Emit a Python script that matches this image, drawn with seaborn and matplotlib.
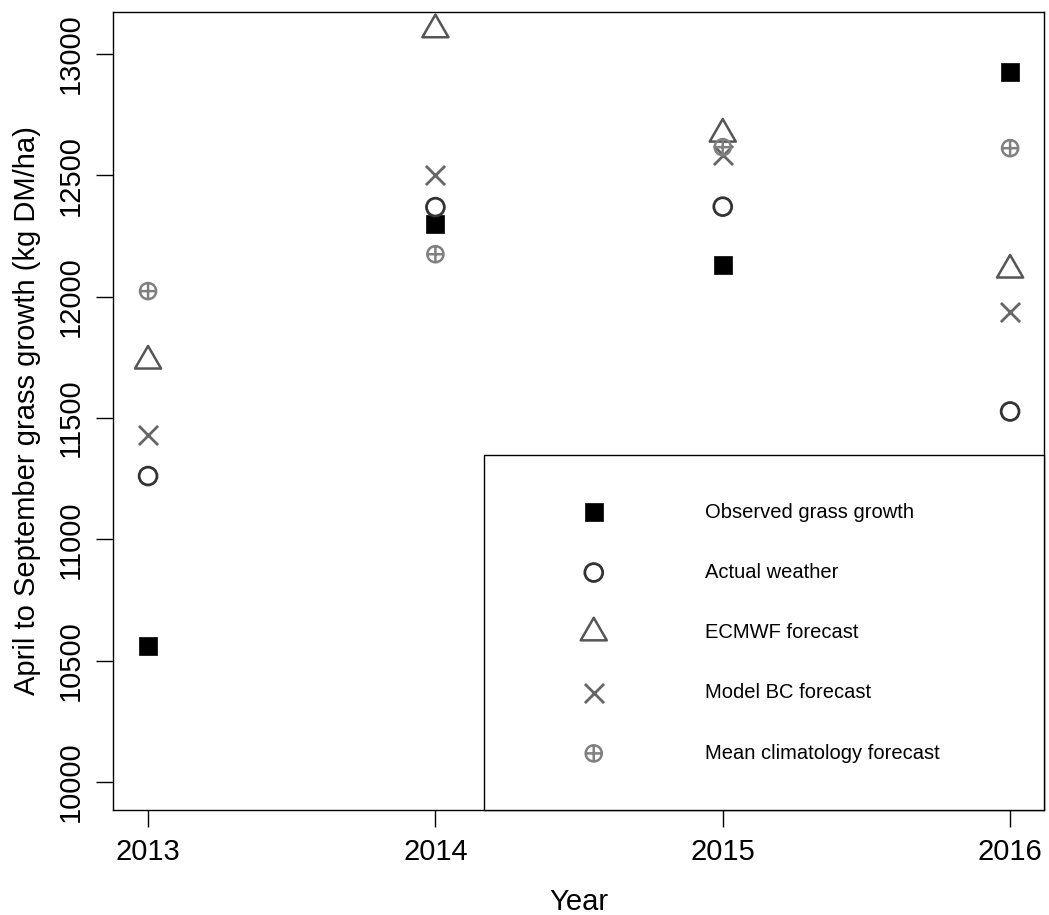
import numpy as np
import pandas as pd
import matplotlib
matplotlib.use("Agg")
import matplotlib.pyplot as plt
import matplotlib.path as mpath
import seaborn as sns

years = [2013, 2014, 2015, 2016]
observed = [10560, 12300, 12130, 12925]
actual_weather = [11261, 12369, 12371, 11527]
ecmwf = [11735, 13100, 12670, 12110]
model_bc = [11430, 12500, 12585, 11937]
mean_clim = [12023, 12175, 12616, 12612]

labels = ["Observed grass growth", "Actual weather", "ECMWF forecast",
          "Model BC forecast", "Mean climatology forecast"]
yticks = [10000, 10500, 11000, 11500, 12000, 12500, 13000]
xticks = years

sns.set_style("white")
plt.rcParams["font.family"] = ["Liberation Sans", "DejaVu Sans"]
plt.rcParams["text.color"] = "black"
plt.rcParams["axes.labelcolor"] = "black"
plt.rcParams["xtick.color"] = "black"
plt.rcParams["ytick.color"] = "black"

# custom markers
circ = mpath.Path.unit_circle()
hline = mpath.Path([[-1, 0], [1, 0]], [mpath.Path.MOVETO, mpath.Path.LINETO])
vline = mpath.Path([[0, -1], [0, 1]], [mpath.Path.MOVETO, mpath.Path.LINETO])
crosshair = mpath.Path.make_compound_path(circ, hline, vline)
h = np.sqrt(3) / 2
tri = mpath.Path([[0, 2 * h / 3], [-0.5, -h / 3], [0.5, -h / 3], [0, 2 * h / 3]],
                 [mpath.Path.MOVETO, mpath.Path.LINETO, mpath.Path.LINETO, mpath.Path.CLOSEPOLY])

fig = plt.figure(figsize=(10.49, 9.15), dpi=100)
ax = fig.add_axes([113 / 1049, 1 - 810 / 915, (1044 - 113) / 1049, (810 - 12) / 915])

sns.scatterplot(x=years, y=observed, ax=ax, marker="s", s=180, color="black",
                edgecolor="black", linewidth=0.5, label=labels[0], legend=False)
sns.scatterplot(x=years, y=actual_weather, ax=ax, marker="o", s=165,
                facecolor="none", edgecolor="#333333", linewidth=2.0, label=labels[1], legend=False)
sns.scatterplot(x=years, y=ecmwf, ax=ax, marker=tri, s=470,
                facecolor="none", edgecolor="#555555", linewidth=1.8, label=labels[2], legend=False)
sns.scatterplot(x=years, y=model_bc, ax=ax, marker="x", s=190,
                color="#666666", linewidth=2.0, label=labels[3], legend=False)
sns.scatterplot(x=years, y=mean_clim, ax=ax, marker=crosshair, s=135,
                facecolor="none", edgecolor="#808080", linewidth=1.8, label=labels[4], legend=False)

ax.set_xlim(2012.878, 2016.118)
ax.set_ylim(9885, 13173)
ax.set_xticks(xticks)
ax.set_xticklabels([str(y) for y in xticks], fontsize=21)
ax.set_yticks(yticks)
ax.set_yticklabels([str(v) for v in yticks], fontsize=21, rotation=90, va="center")
ax.tick_params(axis="both", direction="out", length=12, width=1, color="black",
               left=True, bottom=True)
ax.tick_params(axis="x", pad=8)
ax.tick_params(axis="y", pad=8)
for sp in ax.spines.values():
    sp.set_visible(True)
    sp.set_color("black")
    sp.set_linewidth(1)

ax.set_xlabel("Year", fontsize=21, labelpad=16)
ax.set_ylabel("April to September grass growth (kg DM/ha)", fontsize=21, labelpad=12)

x0 = (484 - 113) / 931
hgt = (810 - 454) / 798
leg = ax.legend(loc="lower left", bbox_to_anchor=(x0, 0, 1 - x0, hgt), mode="expand",
                borderaxespad=0, fontsize=14.5, frameon=True, fancybox=False,
                edgecolor="black", framealpha=1, borderpad=2.35, labelspacing=2.05,
                handlelength=6.2, handletextpad=2.4, scatterpoints=1)
leg.get_frame().set_linewidth(1)

fig.savefig("out.png", dpi=100)
